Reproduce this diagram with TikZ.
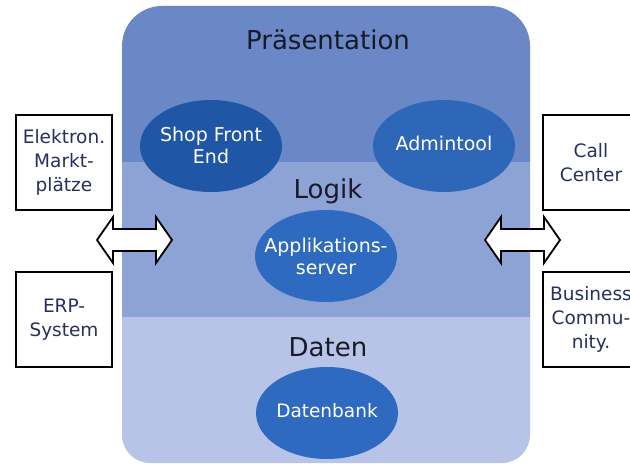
\documentclass[tikz,border=0pt]{standalone}
\usepackage{fontspec}
\setmainfont{DejaVu Sans}
\usetikzlibrary{shapes.geometric}
\definecolor{presC}{RGB}{106,135,198}
\definecolor{logC}{RGB}{142,163,213}
\definecolor{datC}{RGB}{184,196,231}
\definecolor{ellA}{RGB}{31,86,166}
\definecolor{ellB}{RGB}{46,103,184}
\definecolor{ellC}{RGB}{46,106,191}
\definecolor{boxtext}{RGB}{38,48,94}
\definecolor{titletext}{RGB}{24,26,40}
\begin{document}
\begin{tikzpicture}[x=1pt,y=-1pt,
  ell/.style={ellipse, inner sep=0pt, minimum width=142pt, minimum height=92pt},
  elltext/.style={text=white, align=center, inner sep=0pt, font=\fontsize{19}{22}\selectfont},
  tiertitle/.style={text=titletext, font=\fontsize{26}{28}\selectfont, inner sep=0pt},
  sysbox/.style={draw=black, line width=2.2pt, fill=white, minimum width=96pt,
    minimum height=95pt, align=center, text=boxtext, inner sep=0pt,
    font=\fontsize{18.5}{24}\selectfont},
  blockarrow/.style={draw=black, line width=1.8pt, fill=white, line join=miter}
]
\useasboundingbox (0,0) rectangle (630,465);
\clip (0,0) rectangle (630,465);
\fill[white] (0,0) rectangle (630,465);
% main tiered area
\begin{scope}
  \clip (122,300) [rounded corners=40pt] -- (122,6) -- (530,6) -- (530,300)
        [rounded corners=28pt] -- (530,463) -- (122,463) -- cycle;
  \fill[presC] (100,0) rectangle (560,162);
  \fill[logC] (100,162) rectangle (560,317);
  \fill[datC] (100,317) rectangle (560,470);
\end{scope}
% titles
\node[tiertitle] (pres) at (328,40) {Präsentation};
\node[tiertitle] (logik) at (328,191) {Logik};
\node[tiertitle] (daten) at (328,347) {Daten};
% ellipses
\node[ell, fill=ellA] (shop) at (211,146) {};
\node[elltext] (shopT) at (211,145) {Shop Front\\End};
\node[ell, fill=ellB] (admin) at (444,146) {};
\node[elltext] (adminT) at (444,143) {Admintool};
\node[ell, fill=ellC] (appl) at (326,256) {};
\node[elltext] (applT) at (326,256) {Applikations-\\server};
\node[ell, fill=ellC] (db) at (327,413) {};
\node[elltext, font=\fontsize{18.5}{22}\selectfont] (dbT) at (327,411) {Datenbank};
% side boxes
\node[sysbox] (elek) at (64,162.5) {Elektron.\\Markt-\\plätze};
\node[sysbox] (erp) at (64,319.5) {ERP-\\System};
\node[sysbox] (call) at (591,162.5) {Call\\Center};
\node[sysbox] (bus) at (591,319.5) {Business\\Commu-\\nity.};
% block arrows
\draw[blockarrow] (97,240) -- (113,217) -- (113,229) -- (156,229) -- (156,217)
  -- (172,240) -- (156,263) -- (156,251) -- (113,251) -- (113,263) -- cycle;
\draw[blockarrow] (485,240) -- (501,217) -- (501,229) -- (544,229) -- (544,217)
  -- (560,240) -- (544,263) -- (544,251) -- (501,251) -- (501,263) -- cycle;
\end{tikzpicture}
\end{document}
